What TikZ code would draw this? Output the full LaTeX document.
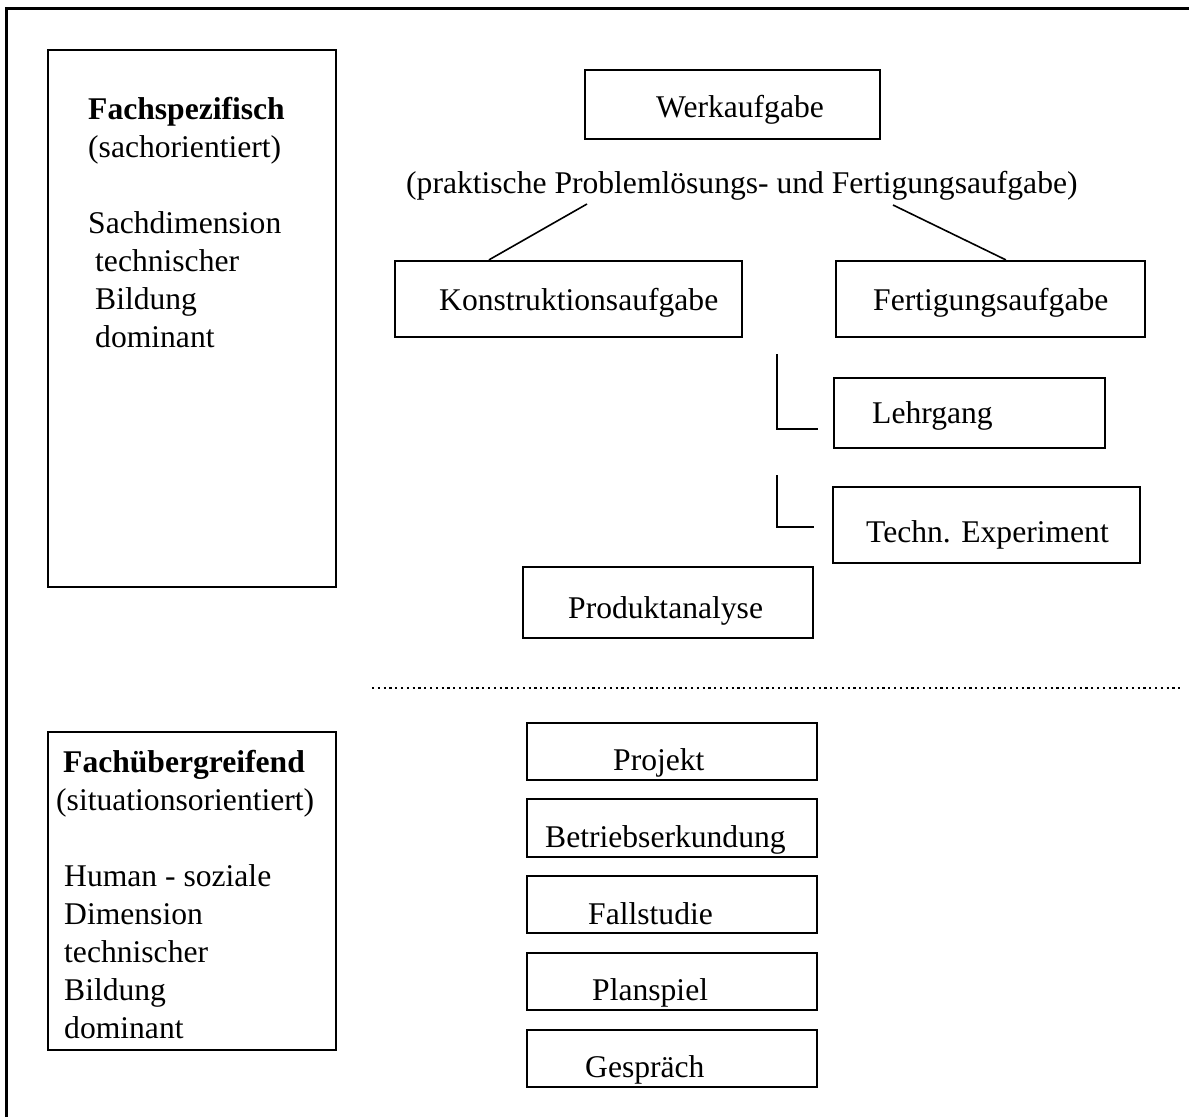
\documentclass[tikz,border=0pt]{standalone}
\usepackage{fontspec}
\setmainfont{Liberation Serif}
\usetikzlibrary{calc}
\begin{document}
\begin{tikzpicture}[x=1pt,y=-1pt,
  frame/.style={line width=3pt},
  box/.style={draw, line width=2.2pt, inner sep=0pt},
  lbl/.style={anchor=base west, inner sep=0pt, font=\fontsize{31.6}{38}\selectfont},
  link/.style={line width=1.6pt},
  divider/.style={line width=2pt, dash pattern=on 2.2pt off 3.6pt}]
\useasboundingbox (0,0) rectangle (1189,1117);

% outer frame (top and left edges)
\draw[frame] (6,1117) -- (6,8) -- (1189,8);

% left column: the two categories
\node[box, minimum width=288, minimum height=537] (spec) at (192,318.5) {};
\node[lbl, font=\fontsize{31.6}{38}\selectfont\bfseries] (spec-t1) at (88,119) {Fachspezifisch};
\node[lbl] (spec-t2) at (88,157) {(sachorientiert)};
\node[lbl] (spec-t3) at (88,233) {Sachdimension};
\node[lbl] (spec-t4) at (95,271) {technischer};
\node[lbl] (spec-t5) at (95,309) {Bildung};
\node[lbl] (spec-t6) at (95,347) {dominant};

\node[box, minimum width=288, minimum height=318] (ueber) at (192,891) {};
\node[lbl, font=\fontsize{31.6}{38}\selectfont\bfseries] (ueber-t1) at (63,772) {Fachübergreifend};
\node[lbl] (ueber-t2) at (56,810) {(situationsorientiert)};
\node[lbl] (ueber-t3) at (64,886) {Human - soziale};
\node[lbl] (ueber-t4) at (64,924) {Dimension};
\node[lbl] (ueber-t5) at (64,962) {technischer};
\node[lbl] (ueber-t6) at (64,1000) {Bildung};
\node[lbl] (ueber-t7) at (64,1038) {dominant};

% subject-specific methods
\node[box, minimum width=295, minimum height=69] (werk) at (732.5,104.5) {};
\node[lbl] (werk-t) at (656,117) {Werkaufgabe};
\node[lbl] (werk-sub) at (406,193) {(praktische Problemlösungs- und Fertigungsaufgabe)};

\node[box, minimum width=347, minimum height=76] (konst) at (568.5,299) {};
\node[lbl] (konst-t) at (439,310) {Konstruktionsaufgabe};
\node[box, minimum width=309, minimum height=76] (fert) at (990.5,299) {};
\node[lbl] (fert-t) at (873,310) {Fertigungsaufgabe};

\coordinate (split-l) at (587,204);
\coordinate (split-r) at (893,205);
\draw[link] (split-l) -- ($(konst.north west)+(95,0)$);
\draw[link] (split-r) -- ($(fert.north west)+(171,0)$);

\node[box, minimum width=271, minimum height=70] (lehr) at (969.5,413) {};
\node[lbl] (lehr-t) at (872,423) {Lehrgang};
\node[box, minimum width=307, minimum height=76] (techn) at (986.5,525) {};
\node[lbl] (techn-t) at (866,542) {Techn. Experiment};

\coordinate (lehr-stem) at (777,354);
\coordinate (lehr-foot) at (818,429);
\draw[link] (lehr-stem) |- (lehr-foot);
\coordinate (techn-stem) at (777,475);
\coordinate (techn-foot) at (814,527);
\draw[link] (techn-stem) |- (techn-foot);

\node[box, minimum width=290, minimum height=71] (prod) at (668,602.5) {};
\node[lbl] (prod-t) at (568,618) {Produktanalyse};

% separator between the two groups
\coordinate (div-l) at (372,688);
\coordinate (div-r) at (1182,688);
\draw[divider] (div-l) -- (div-r);

% interdisciplinary methods
\node[box, minimum width=290, minimum height=57] (proj) at (672,751.5) {};
\node[lbl] (proj-t) at (613,770) {Projekt};
\node[box, minimum width=290, minimum height=58] (betr) at (672,828) {};
\node[lbl] (betr-t) at (545,847) {Betriebserkundung};
\node[box, minimum width=290, minimum height=57] (fall) at (672,904.5) {};
\node[lbl] (fall-t) at (588,924) {Fallstudie};
\node[box, minimum width=290, minimum height=57] (plan) at (672,981.5) {};
\node[lbl] (plan-t) at (592,1000) {Planspiel};
\node[box, minimum width=290, minimum height=57] (gesp) at (672,1058.5) {};
\node[lbl] (gesp-t) at (585,1077) {Gespräch};
\end{tikzpicture}
\end{document}
